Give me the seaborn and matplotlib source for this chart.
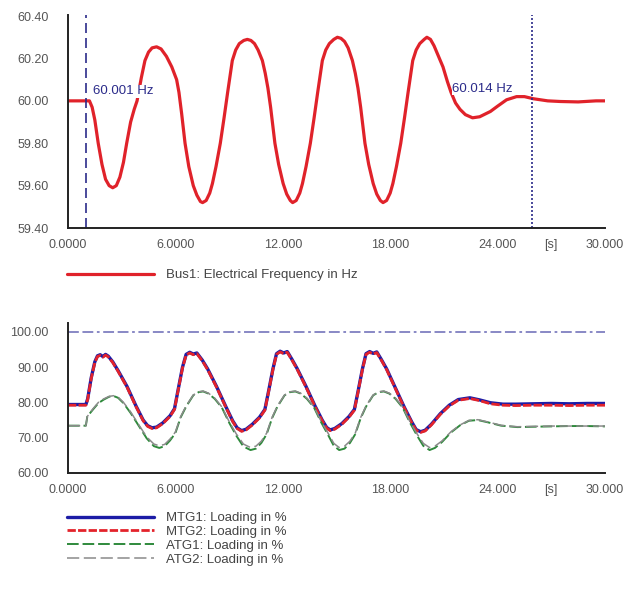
import matplotlib
matplotlib.use("Agg")
import matplotlib.pyplot as plt
import seaborn as sns

# ---- data ----
freq_t = [0, 1.0, 1.2, 1.35, 1.5, 1.69, 1.9, 2.1, 2.3, 2.5, 2.7, 2.9, 3.1, 3.28, 3.5, 3.7, 3.86,
          4.1, 4.3, 4.5, 4.7, 4.95, 5.2, 5.5, 5.8, 6.07, 6.2, 6.35, 6.54, 6.75, 7.0, 7.2, 7.4,
          7.52, 7.72, 7.92, 8.07, 8.27, 8.51, 8.72, 8.92, 9.18, 9.37, 9.57, 9.82, 10.02,
          10.22, 10.42, 10.62, 10.86, 11.02, 11.17, 11.32, 11.56, 11.77, 12.02, 12.22, 12.42,
          12.55, 12.75, 12.95, 13.1, 13.3, 13.54, 13.75, 13.95, 14.21, 14.4, 14.6, 14.85, 15.05,
          15.25, 15.45, 15.65, 15.89, 16.05, 16.2, 16.35, 16.59, 16.8, 17.05, 17.25, 17.45,
          17.6, 17.8, 18.0, 18.15, 18.35, 18.59, 18.8, 19.0, 19.26, 19.45, 19.65, 19.9, 20.05,
          20.25, 20.45, 20.7, 20.95, 21.2, 21.4, 21.65, 21.9, 22.2, 22.6, 23.0, 23.6, 24.0,
          24.5, 25.06, 25.5, 26.0, 26.8, 27.5, 28.5, 29.5, 30.0]
freq_hz = [60.00, 60.00, 60.00, 59.97, 59.91, 59.80, 59.70, 59.63, 59.60, 59.59, 59.60, 59.64,
           59.71, 59.80, 59.90, 59.96, 60.00, 60.11, 60.19, 60.23, 60.25, 60.255, 60.245,
           60.21, 60.16, 60.10, 60.04, 59.94, 59.80, 59.69, 59.60, 59.555, 59.525, 59.52,
           59.53, 59.565, 59.61, 59.69, 59.80, 59.92, 60.04, 60.19, 60.24, 60.27, 60.285,
           60.29, 60.285, 60.27, 60.24, 60.19, 60.13, 60.06, 59.97, 59.80, 59.70, 59.61, 59.56,
           59.53, 59.52, 59.53, 59.565, 59.61, 59.69, 59.80, 59.92, 60.04, 60.19, 60.24, 60.27,
           60.29, 60.30, 60.295, 60.28, 60.25, 60.19, 60.13, 60.06, 59.97, 59.80, 59.70, 59.61,
           59.56, 59.53, 59.52, 59.53, 59.565, 59.61, 59.69, 59.80, 59.92, 60.04, 60.19, 60.24,
           60.27, 60.29, 60.30, 60.29, 60.26, 60.21, 60.16, 60.09, 60.04, 59.99, 59.96, 59.935,
           59.92, 59.925, 59.95, 59.975, 60.005, 60.02, 60.02, 60.01, 60.00, 59.997, 59.995,
           60.00, 60.00]

mtg_t = [0, 1.0, 1.1, 1.3, 1.5, 1.65, 1.8, 1.95, 2.1, 2.25, 2.5, 2.8, 3.3, 3.8, 4.2, 4.45, 4.7,
         4.95, 5.3, 5.7, 5.95, 6.15, 6.4, 6.6, 6.8, 7.0, 7.2, 7.5, 7.8, 8.3, 8.8, 9.2, 9.45,
         9.7, 9.95, 10.3, 10.7, 11.0, 11.2, 11.45, 11.65, 11.85, 12.05, 12.25, 12.5, 12.8,
         13.3, 13.8, 14.2, 14.45, 14.65, 14.9, 15.3, 15.7, 16.0, 16.2, 16.45, 16.65, 16.85,
         17.05, 17.25, 17.5, 17.8, 18.3, 18.8, 19.2, 19.45, 19.7, 19.95, 20.3, 20.8, 21.3,
         21.8, 22.45, 23.0, 23.6, 24.3, 25.0, 26.0, 27.0, 28.0, 29.0, 30.0]
mtg1_load = [79.4, 79.4, 81.0, 87.0, 91.5, 93.2, 93.5, 93.0, 93.6, 93.1, 91.5, 89.0, 84.5, 79.0,
             75.0, 73.4, 72.8, 73.0, 74.2, 76.2, 78.2, 83.5, 90.0, 93.6, 94.2, 93.7, 94.0, 92.0,
             89.5, 84.5, 79.0, 74.8, 72.8, 72.0, 72.4, 73.8, 75.8, 78.0, 83.0, 89.5, 93.8, 94.5,
             94.0, 94.4, 92.3, 89.6, 84.5, 79.0, 75.0, 72.9, 72.2, 72.6, 74.0, 76.0, 78.0, 83.0,
             89.5, 93.8, 94.4, 93.9, 94.3, 92.2, 89.5, 84.0, 78.5, 74.5, 72.3, 71.7, 72.1, 73.8,
             76.8, 79.2, 80.8, 81.3, 80.7, 79.9, 79.5, 79.5, 79.6, 79.7, 79.6, 79.7, 79.7]
mtg2_load = [79.2, 79.2, 80.8, 86.8, 91.3, 93.0, 93.3, 92.8, 93.4, 92.9, 91.3, 88.8, 84.3, 78.8,
             74.8, 73.2, 72.6, 72.8, 74.0, 76.0, 78.0, 83.3, 89.8, 93.4, 94.0, 93.5, 93.8, 91.8,
             89.3, 84.3, 78.8, 74.6, 72.6, 71.8, 72.2, 73.6, 75.6, 77.8, 82.8, 89.3, 93.6, 94.3,
             93.8, 94.2, 92.1, 89.4, 84.3, 78.8, 74.8, 72.7, 72.0, 72.4, 73.8, 75.8, 77.8, 82.8,
             89.3, 93.6, 94.2, 93.7, 94.1, 92.0, 89.3, 83.8, 78.3, 74.3, 72.1, 71.5, 71.9, 73.6,
             76.6, 79.0, 80.6, 81.1, 80.5, 79.6, 79.2, 79.1, 79.2, 79.2, 79.1, 79.2, 79.2]

atg_t = [0, 1.0, 1.08, 1.4, 1.7, 2.0, 2.3, 2.55, 2.8, 3.1, 3.5, 4.0, 4.4, 4.8, 5.1, 5.4, 5.7,
         6.0, 6.3, 6.6, 7.0, 7.3, 7.55, 7.85, 8.2, 8.6, 9.0, 9.4, 9.8, 10.2, 10.5, 10.8, 11.1,
         11.4, 11.7, 12.1, 12.4, 12.7, 13.0, 13.35, 13.75, 14.15, 14.55, 14.85, 15.15, 15.45,
         15.75, 16.05, 16.35, 16.65, 17.05, 17.35, 17.65, 17.95, 18.3, 18.7, 19.1, 19.5, 19.85,
         20.2, 20.5, 20.9, 21.4, 21.9, 22.4, 22.9, 23.5, 24.2, 25.1, 26.0, 27.0, 28.0, 29.0,
         30.0]
atg1_load = [73.4, 73.4, 76.0, 78.0, 79.8, 80.8, 81.6, 81.8, 81.3, 79.8, 77.0, 73.0, 69.8, 67.6,
             67.1, 67.6, 69.2, 71.3, 75.8, 78.8, 82.0, 82.9, 83.1, 82.5, 81.0, 78.5, 74.3, 70.6,
             67.5, 66.5, 66.9, 68.5, 71.0, 75.5, 78.8, 82.0, 82.9, 83.1, 82.5, 81.0, 78.5, 74.3,
             70.6, 67.7, 66.5, 66.9, 68.5, 71.0, 75.5, 78.8, 82.0, 82.9, 83.1, 82.5, 81.0, 78.5,
             74.3, 70.6, 67.7, 66.5, 67.1, 68.8, 71.5, 73.5, 74.8, 75.0, 74.3, 73.4, 73.0, 73.1,
             73.2, 73.3, 73.3, 73.2]
atg2_load = [73.4, 73.4, 76.0, 78.2, 80.0, 81.0, 81.7, 81.9, 81.5, 80.0, 77.3, 73.3, 70.2, 68.2,
             67.7, 68.1, 69.6, 71.6, 76.0, 79.0, 82.1, 83.0, 83.2, 82.6, 81.2, 78.7, 74.6, 71.1,
             68.2, 67.2, 67.6, 69.0, 71.3, 75.7, 79.0, 82.1, 83.0, 83.2, 82.6, 81.2, 78.7, 74.6,
             71.1, 68.4, 67.2, 67.6, 69.0, 71.3, 75.7, 79.0, 82.1, 83.0, 83.2, 82.6, 81.2, 78.7,
             74.6, 71.1, 68.4, 67.2, 67.6, 69.1, 71.7, 73.6, 74.9, 75.1, 74.4, 73.5, 73.1, 73.2,
             73.3, 73.3, 73.3, 73.3]

x_ticks = [0, 6, 12, 18, 24, 30]
x_tick_labels = ["0.0000", "6.0000", "12.000", "18.000", "24.000", "30.000"]
freq_ticks = [59.4, 59.6, 59.8, 60.0, 60.2, 60.4]
freq_tick_labels = ["59.40", "59.60", "59.80", "60.00", "60.20", "60.40"]
load_ticks = [60, 70, 80, 90, 100]
load_tick_labels = ["60.00", "70.00", "80.00", "90.00", "100.00"]

markers = [(1.0, "60.001 Hz", 1.4, 60.046), (25.9, "60.014 Hz", 21.45, 60.056)]

# ---- style ----
sns.set_theme(style="white")
plt.rcParams["font.family"] = ["Liberation Sans", "DejaVu Sans"]
FS = 9
LEG_FS = 9.5
TICK_COLOR = "#555555"
NAVY = "#2b2b8a"

fig = plt.figure(figsize=(6.23, 5.96), dpi=100)
ax1 = fig.add_axes([0.1091, 0.6174, 0.8620, 0.3574])
ax2 = fig.add_axes([0.1091, 0.2064, 0.8620, 0.2517])


def style_axis(ax, yticks, ylabels, minor_y):
    for side in ["top", "right"]:
        ax.spines[side].set_visible(False)
    for side in ["left", "bottom"]:
        ax.spines[side].set_color("#222222")
        ax.spines[side].set_linewidth(1.4)
    ax.set_xlim(0, 30)
    ax.set_xticks(x_ticks)
    ax.set_xticklabels(x_tick_labels)
    ax.set_xticks([3, 9, 15, 21, 27], minor=True)
    ax.set_yticks(yticks)
    ax.set_yticklabels(ylabels)
    ax.set_yticks(minor_y, minor=True)
    ax.tick_params(which="both", direction="in", colors="#222222", labelcolor=TICK_COLOR,
                   labelsize=FS, width=1.2)
    ax.tick_params(which="major", length=6)
    ax.tick_params(which="minor", length=3.5)
    ax.tick_params(axis="x", which="major", pad=8)
    ax.tick_params(axis="y", which="major", pad=14)
    ax.set_xlabel("")
    ax.set_ylabel("")
    ax.annotate("[s]", xy=(27, 0), xycoords=("data", "axes fraction"), xytext=(0, -8),
                textcoords="offset points", ha="center", va="top", fontsize=FS,
                color=TICK_COLOR)


# ---- top: frequency ----
sns.lineplot(x=freq_t, y=freq_hz, ax=ax1, color="#e0222a", linewidth=2.3,
             label="Bus1: Electrical Frequency in Hz")
ax1.set_ylim(59.4, 60.405)
style_axis(ax1, freq_ticks, freq_tick_labels, [59.5, 59.7, 59.9, 60.1, 60.3])
ax1.axvline(markers[0][0], color=NAVY, linestyle=(0, (6, 3)), linewidth=1.2)
ax1.axvline(markers[1][0], color=NAVY, linestyle=(0, (1.2, 1.2)), linewidth=1.2)
for _, txt, tx, ty in markers:
    ax1.text(tx, ty, txt, color=NAVY, fontsize=LEG_FS, ha="left", va="center", zorder=5,
             bbox=dict(facecolor="white", edgecolor="none", pad=0.3))
h1, l1 = ax1.get_legend_handles_labels()
ax1.get_legend().remove()
fig.legend(h1, l1, loc="upper left", bbox_to_anchor=(67 / 623, 1 - 269 / 596),
           frameon=False, fontsize=LEG_FS, handlelength=6.6, handletextpad=0.9,
           borderpad=0, borderaxespad=0, labelcolor="#444444")

# ---- bottom: loading ----
ax2.axhline(100, color="#7f7fc0", linestyle=(0, (6, 2, 6, 2, 1.5, 2)), linewidth=1.3)
series = [
    ("MTG1: Loading in %", mtg_t, mtg1_load, "#1c1ca6", "-", 2.4),
    ("MTG2: Loading in %", mtg_t, mtg2_load, "#e3232b", (0, (3, 0.8)), 2.0),
    ("ATG1: Loading in %", atg_t, atg1_load, "#2f8a3c", (0, (6, 2)), 1.4),
    ("ATG2: Loading in %", atg_t, atg2_load, "#8a8a8a", (0, (8, 3)), 1.1),
]
for name, t, v, col, ls, lw in series:
    sns.lineplot(x=t, y=v, ax=ax2, color=col, linestyle=ls, linewidth=lw, label=name)
ax2.set_ylim(60, 102.5)
style_axis(ax2, load_ticks, load_tick_labels, [65, 75, 85, 95])
h2, l2 = ax2.get_legend_handles_labels()
ax2.get_legend().remove()
fig.legend(h2, l2, loc="upper left", bbox_to_anchor=(67 / 623, 1 - 512 / 596),
           frameon=False, fontsize=LEG_FS, handlelength=6.6, handletextpad=0.9,
           labelspacing=0.12, borderpad=0, borderaxespad=0, labelcolor="#444444")

fig.savefig("out.png", dpi=100, facecolor="white")
